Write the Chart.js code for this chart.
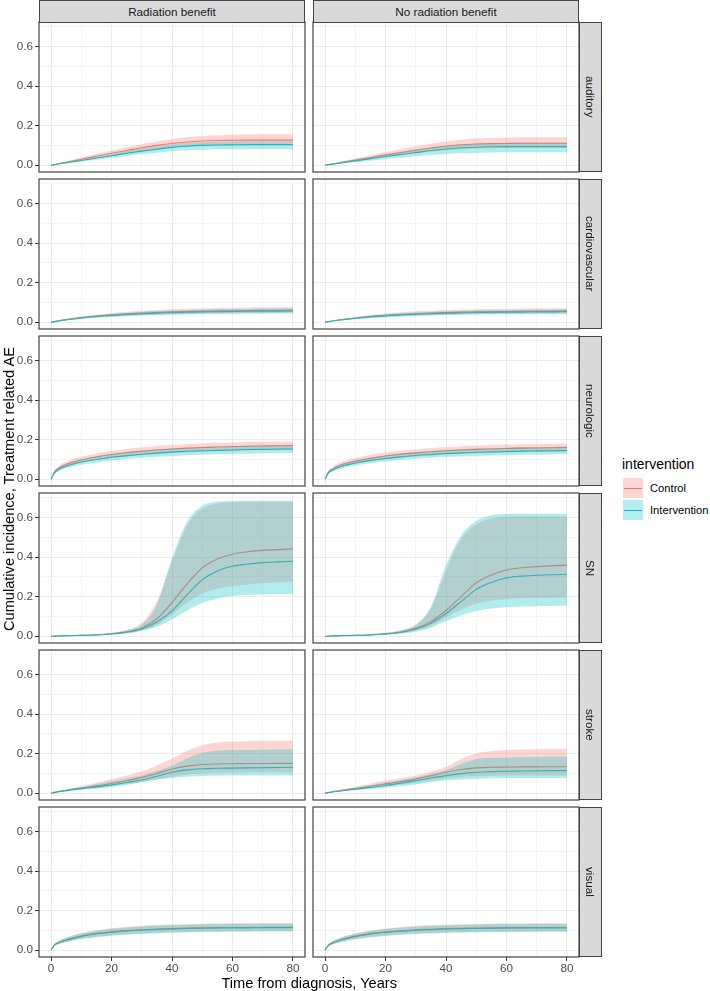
<!DOCTYPE html>
<html><head><meta charset="utf-8">
<script src="https://cdn.jsdelivr.net/npm/chart.js@4.4.1/dist/chart.umd.min.js"></script>
<style>
body{margin:0;background:#fff;}
#wrap{position:relative;width:710px;height:991px;overflow:hidden;font-family:"Liberation Sans",Arial,sans-serif;}
#wrap canvas{position:absolute;}
.strip{position:absolute;background:#D9D9D9;border:1px solid #444;box-sizing:border-box;color:#1A1A1A;font-size:11.7px;display:flex;align-items:center;justify-content:center;z-index:5;}
.strip.v span{writing-mode:vertical-rl;}
.title{position:absolute;color:#000;font-size:14.6px;white-space:nowrap;}
.ltitle{position:absolute;color:#000;font-size:14px;white-space:nowrap;}
.key{position:absolute;width:20px;height:20px;}
.key i{position:absolute;left:1px;right:1px;top:9.5px;height:1.2px;}
.lab{position:absolute;font-size:11.2px;color:#000;white-space:nowrap;}
</style></head>
<body><div id="wrap"></div>
<script>
// ---------- data ----------
const xs = [0,1,2,5,10,15,20,25,30,35,40,45,50,55,60,65,70,75,80];
const xMajor = [0,20,40,60,80];
const xMinor = [10,30,50,70];
const yMajor = [0,0.2,0.4,0.6];
const yMinor = [0.1,0.3,0.5,0.7];
const columns = ['Radiation benefit','No radiation benefit'];
const rowNames = ['auditory','cardiovascular','neurologic','SN','stroke','visual'];
const seriesNames = ['Control','Intervention'];
const legendTitle = 'intervention';
const xTitle = 'Time from diagnosis, Years';
const yTitle = 'Cumulative incidence, Treatment related AE';

// auditory
const audRadCtrl   = [0,0.003,0.006,0.015,0.030,0.045,0.060,0.074,0.088,0.100,0.110,0.117,0.122,0.125,0.126,0.127,0.127,0.127,0.127];
const audRadCtrlHi = [0,0.004,0.008,0.019,0.038,0.056,0.074,0.090,0.106,0.120,0.132,0.142,0.148,0.152,0.154,0.155,0.156,0.156,0.156];
const audRadCtrlLo = [0,0.003,0.005,0.012,0.024,0.036,0.048,0.060,0.071,0.081,0.089,0.095,0.099,0.101,0.102,0.103,0.103,0.103,0.103];
const audRadInt    = [0,0.002,0.005,0.012,0.024,0.036,0.048,0.060,0.071,0.081,0.090,0.096,0.100,0.102,0.103,0.104,0.104,0.104,0.104];
const audRadIntHi  = [0,0.003,0.006,0.015,0.029,0.043,0.057,0.071,0.084,0.095,0.105,0.112,0.116,0.119,0.120,0.121,0.121,0.121,0.121];
const audRadIntLo  = [0,0.002,0.004,0.009,0.019,0.028,0.038,0.047,0.056,0.063,0.070,0.075,0.078,0.080,0.081,0.081,0.081,0.081,0.081];
const audNoCtrl    = [0,0.003,0.005,0.013,0.026,0.039,0.052,0.064,0.076,0.087,0.096,0.103,0.107,0.109,0.110,0.111,0.111,0.111,0.111];
const audNoCtrlHi  = [0,0.004,0.007,0.017,0.034,0.050,0.066,0.081,0.096,0.109,0.120,0.129,0.135,0.138,0.140,0.141,0.141,0.141,0.141];
const audNoCtrlLo  = [0,0.002,0.004,0.010,0.020,0.030,0.041,0.050,0.060,0.068,0.075,0.080,0.084,0.086,0.087,0.088,0.088,0.088,0.088];
const audNoInt     = [0,0.002,0.004,0.011,0.022,0.033,0.044,0.054,0.064,0.074,0.082,0.088,0.091,0.093,0.094,0.094,0.094,0.094,0.094];
const audNoIntHi   = [0,0.003,0.005,0.014,0.027,0.040,0.053,0.066,0.078,0.089,0.098,0.105,0.109,0.111,0.112,0.113,0.113,0.113,0.113];
const audNoIntLo   = [0,0.002,0.003,0.008,0.015,0.023,0.030,0.038,0.045,0.051,0.056,0.060,0.062,0.064,0.065,0.065,0.065,0.065,0.065];

// cardiovascular
const cvRadCtrl    = [0,0.003,0.006,0.013,0.023,0.031,0.037,0.042,0.046,0.049,0.052,0.054,0.056,0.057,0.058,0.059,0.060,0.060,0.061];
const cvRadCtrlHi  = [0,0.004,0.008,0.017,0.029,0.039,0.047,0.053,0.058,0.062,0.066,0.068,0.070,0.072,0.073,0.074,0.075,0.075,0.076];
const cvRadCtrlLo  = [0,0.002,0.005,0.010,0.018,0.024,0.029,0.033,0.036,0.038,0.041,0.042,0.044,0.044,0.045,0.046,0.047,0.047,0.048];
const cvRadInt     = [0,0.003,0.005,0.012,0.021,0.029,0.034,0.039,0.043,0.046,0.048,0.050,0.052,0.053,0.054,0.055,0.056,0.056,0.057];
const cvRadIntHi   = [0,0.003,0.007,0.015,0.026,0.035,0.042,0.047,0.052,0.056,0.059,0.061,0.063,0.065,0.066,0.067,0.068,0.068,0.069];
const cvRadIntLo   = [0,0.002,0.004,0.009,0.016,0.022,0.026,0.030,0.033,0.035,0.037,0.039,0.040,0.041,0.042,0.043,0.043,0.044,0.044];
const cvNoCtrl     = [0,0.003,0.005,0.012,0.021,0.029,0.035,0.039,0.043,0.046,0.049,0.051,0.052,0.053,0.054,0.055,0.056,0.056,0.057];
const cvNoCtrlHi   = [0,0.004,0.007,0.016,0.027,0.037,0.044,0.050,0.055,0.058,0.062,0.064,0.066,0.067,0.068,0.069,0.070,0.071,0.071];
const cvNoCtrlLo   = [0,0.002,0.004,0.009,0.016,0.022,0.027,0.031,0.034,0.036,0.038,0.040,0.041,0.042,0.043,0.043,0.044,0.044,0.045];
const cvNoInt      = [0,0.003,0.005,0.011,0.020,0.027,0.032,0.037,0.040,0.043,0.045,0.047,0.049,0.050,0.051,0.051,0.052,0.052,0.053];
const cvNoIntHi    = [0,0.003,0.006,0.014,0.024,0.033,0.039,0.045,0.049,0.052,0.055,0.057,0.059,0.060,0.061,0.062,0.063,0.063,0.064];
const cvNoIntLo    = [0,0.002,0.004,0.008,0.015,0.020,0.024,0.028,0.031,0.033,0.035,0.037,0.038,0.039,0.040,0.040,0.041,0.041,0.042];

// neurologic
const neRadCtrl    = [0,0.035,0.050,0.075,0.098,0.113,0.125,0.134,0.142,0.148,0.153,0.157,0.160,0.163,0.165,0.167,0.168,0.169,0.170];
const neRadCtrlHi  = [0,0.042,0.060,0.088,0.113,0.130,0.143,0.153,0.161,0.168,0.173,0.178,0.181,0.184,0.186,0.188,0.189,0.190,0.191];
const neRadCtrlLo  = [0,0.028,0.041,0.063,0.083,0.097,0.107,0.115,0.122,0.128,0.132,0.136,0.139,0.141,0.143,0.145,0.146,0.147,0.148];
const neRadInt     = [0,0.030,0.044,0.066,0.087,0.100,0.111,0.119,0.126,0.132,0.137,0.141,0.144,0.146,0.148,0.150,0.151,0.152,0.153];
const neRadIntHi   = [0,0.036,0.052,0.077,0.100,0.115,0.127,0.136,0.144,0.150,0.155,0.159,0.162,0.165,0.167,0.169,0.170,0.171,0.172];
const neRadIntLo   = [0,0.024,0.036,0.055,0.073,0.085,0.095,0.102,0.108,0.113,0.117,0.121,0.124,0.126,0.128,0.129,0.130,0.131,0.132];
const neNoCtrl     = [0,0.033,0.047,0.071,0.092,0.106,0.117,0.126,0.133,0.139,0.144,0.148,0.151,0.153,0.155,0.157,0.158,0.159,0.160];
const neNoCtrlHi   = [0,0.040,0.057,0.084,0.107,0.123,0.135,0.144,0.152,0.158,0.163,0.167,0.171,0.173,0.175,0.177,0.178,0.179,0.180];
const neNoCtrlLo   = [0,0.027,0.038,0.059,0.078,0.091,0.101,0.109,0.115,0.120,0.125,0.128,0.131,0.133,0.135,0.136,0.137,0.138,0.139];
const neNoInt      = [0,0.029,0.042,0.063,0.082,0.095,0.105,0.113,0.120,0.125,0.130,0.133,0.136,0.138,0.140,0.142,0.143,0.144,0.145];
const neNoIntHi    = [0,0.035,0.050,0.074,0.095,0.110,0.121,0.130,0.137,0.143,0.148,0.152,0.155,0.157,0.159,0.161,0.162,0.163,0.164];
const neNoIntLo    = [0,0.023,0.034,0.052,0.069,0.081,0.090,0.097,0.103,0.108,0.112,0.115,0.118,0.120,0.121,0.123,0.124,0.125,0.126];

// SN
const snRadCtrl    = [0,0,0.001,0.002,0.004,0.007,0.012,0.022,0.042,0.088,0.170,0.265,0.345,0.390,0.415,0.427,0.434,0.438,0.442];
const snRadCtrlHi  = [0,0,0.001,0.003,0.006,0.010,0.017,0.032,0.068,0.175,0.375,0.560,0.645,0.672,0.678,0.680,0.680,0.680,0.680];
const snRadCtrlLo  = [0,0,0.001,0.002,0.003,0.005,0.009,0.016,0.030,0.058,0.110,0.170,0.215,0.240,0.253,0.262,0.268,0.272,0.275];
const snRadInt     = [0,0,0.001,0.002,0.004,0.006,0.011,0.020,0.037,0.072,0.128,0.210,0.285,0.330,0.354,0.365,0.372,0.376,0.379];
const snRadIntHi   = [0,0,0.001,0.003,0.005,0.009,0.016,0.030,0.058,0.160,0.395,0.580,0.660,0.680,0.684,0.685,0.685,0.685,0.685];
const snRadIntLo   = [0,0,0.001,0.001,0.003,0.005,0.008,0.014,0.026,0.048,0.085,0.130,0.168,0.190,0.203,0.208,0.211,0.213,0.215];
const snNoCtrl     = [0,0,0.001,0.002,0.004,0.007,0.012,0.021,0.040,0.075,0.130,0.200,0.270,0.310,0.335,0.346,0.352,0.356,0.359];
const snNoCtrlHi   = [0,0,0.001,0.003,0.006,0.010,0.017,0.030,0.060,0.140,0.330,0.490,0.565,0.595,0.603,0.605,0.606,0.606,0.606];
const snNoCtrlLo   = [0,0,0.001,0.001,0.003,0.005,0.008,0.015,0.028,0.052,0.095,0.135,0.165,0.180,0.188,0.192,0.194,0.195,0.196];
const snNoInt      = [0,0,0.001,0.002,0.004,0.006,0.011,0.019,0.036,0.066,0.115,0.175,0.237,0.272,0.295,0.304,0.308,0.311,0.313];
const snNoIntHi    = [0,0,0.001,0.003,0.005,0.009,0.016,0.029,0.055,0.150,0.360,0.510,0.583,0.612,0.618,0.620,0.620,0.620,0.620];
const snNoIntLo    = [0,0,0.001,0.001,0.003,0.004,0.007,0.013,0.023,0.043,0.075,0.105,0.128,0.140,0.146,0.150,0.152,0.153,0.154];

// stroke
const stRadCtrl    = [0,0.004,0.007,0.015,0.026,0.037,0.049,0.063,0.080,0.100,0.122,0.137,0.145,0.148,0.149,0.150,0.150,0.151,0.151];
const stRadCtrlHi  = [0,0.005,0.009,0.019,0.036,0.053,0.072,0.090,0.110,0.140,0.175,0.215,0.243,0.256,0.261,0.263,0.264,0.265,0.265];
const stRadCtrlLo  = [0,0.003,0.006,0.012,0.020,0.028,0.036,0.046,0.057,0.070,0.083,0.095,0.101,0.104,0.105,0.106,0.106,0.106,0.106];
const stRadInt     = [0,0.003,0.006,0.013,0.023,0.032,0.042,0.054,0.067,0.086,0.106,0.118,0.124,0.126,0.127,0.128,0.129,0.130,0.131];
const stRadIntHi   = [0,0.004,0.008,0.017,0.031,0.045,0.060,0.075,0.090,0.112,0.139,0.175,0.204,0.215,0.218,0.219,0.220,0.221,0.221];
const stRadIntLo   = [0,0.002,0.005,0.010,0.017,0.023,0.030,0.042,0.055,0.068,0.077,0.083,0.087,0.088,0.089,0.089,0.089,0.089,0.089];
const stNoCtrl     = [0,0.003,0.006,0.013,0.024,0.035,0.047,0.059,0.072,0.088,0.106,0.120,0.128,0.131,0.132,0.133,0.133,0.134,0.134];
const stNoCtrlHi   = [0,0.004,0.008,0.017,0.032,0.048,0.064,0.076,0.089,0.108,0.134,0.172,0.201,0.213,0.218,0.221,0.222,0.223,0.223];
const stNoCtrlLo   = [0,0.003,0.005,0.011,0.019,0.027,0.035,0.044,0.053,0.064,0.074,0.082,0.086,0.088,0.089,0.089,0.089,0.089,0.089];
const stNoInt      = [0,0.003,0.005,0.011,0.020,0.029,0.039,0.051,0.064,0.077,0.089,0.099,0.106,0.109,0.111,0.112,0.113,0.114,0.114];
const stNoIntHi    = [0,0.003,0.007,0.015,0.027,0.040,0.054,0.066,0.080,0.097,0.117,0.148,0.173,0.179,0.181,0.182,0.183,0.184,0.184];
const stNoIntLo    = [0,0.002,0.004,0.009,0.015,0.021,0.027,0.035,0.044,0.055,0.064,0.069,0.072,0.075,0.077,0.077,0.077,0.077,0.077];

// visual
const viRadCtrl    = [0,0.025,0.035,0.053,0.072,0.085,0.093,0.099,0.104,0.107,0.110,0.112,0.113,0.114,0.115,0.115,0.115,0.116,0.116];
const viRadCtrlHi  = [0,0.031,0.043,0.065,0.087,0.101,0.111,0.118,0.123,0.127,0.130,0.132,0.134,0.135,0.136,0.136,0.137,0.137,0.137];
const viRadCtrlLo  = [0,0.020,0.028,0.042,0.058,0.068,0.075,0.081,0.085,0.088,0.091,0.092,0.094,0.095,0.096,0.096,0.097,0.097,0.097];
const viRadInt     = [0,0.024,0.034,0.051,0.070,0.083,0.091,0.097,0.102,0.105,0.108,0.110,0.111,0.112,0.113,0.113,0.114,0.114,0.114];
const viRadIntHi   = [0,0.029,0.041,0.062,0.084,0.098,0.108,0.115,0.120,0.124,0.127,0.129,0.131,0.132,0.133,0.133,0.134,0.134,0.134];
const viRadIntLo   = [0,0.019,0.027,0.040,0.056,0.066,0.073,0.078,0.082,0.085,0.088,0.090,0.091,0.092,0.093,0.093,0.094,0.094,0.094];
const viNoCtrl     = [0,0.024,0.034,0.052,0.071,0.084,0.092,0.098,0.103,0.106,0.109,0.111,0.112,0.113,0.114,0.114,0.115,0.115,0.115];
const viNoCtrlHi   = [0,0.030,0.042,0.064,0.086,0.100,0.110,0.117,0.122,0.126,0.129,0.131,0.133,0.134,0.135,0.135,0.136,0.136,0.136];
const viNoCtrlLo   = [0,0.019,0.027,0.041,0.057,0.067,0.074,0.080,0.084,0.087,0.090,0.091,0.093,0.094,0.095,0.095,0.096,0.096,0.096];
const viNoInt      = [0,0.023,0.033,0.050,0.069,0.082,0.090,0.096,0.101,0.104,0.107,0.109,0.110,0.111,0.112,0.112,0.113,0.113,0.113];
const viNoIntHi    = [0,0.028,0.040,0.061,0.083,0.097,0.107,0.114,0.119,0.123,0.126,0.128,0.130,0.131,0.132,0.132,0.133,0.133,0.133];
const viNoIntLo    = [0,0.018,0.026,0.039,0.055,0.065,0.072,0.077,0.081,0.084,0.087,0.089,0.090,0.091,0.091,0.092,0.092,0.093,0.093];

// [row][col] = [ctrl, ctrlLo, ctrlHi, int, intLo, intHi]
const panelData = [
  [[audRadCtrl,audRadCtrlLo,audRadCtrlHi,audRadInt,audRadIntLo,audRadIntHi],[audNoCtrl,audNoCtrlLo,audNoCtrlHi,audNoInt,audNoIntLo,audNoIntHi]],
  [[cvRadCtrl,cvRadCtrlLo,cvRadCtrlHi,cvRadInt,cvRadIntLo,cvRadIntHi],[cvNoCtrl,cvNoCtrlLo,cvNoCtrlHi,cvNoInt,cvNoIntLo,cvNoIntHi]],
  [[neRadCtrl,neRadCtrlLo,neRadCtrlHi,neRadInt,neRadIntLo,neRadIntHi],[neNoCtrl,neNoCtrlLo,neNoCtrlHi,neNoInt,neNoIntLo,neNoIntHi]],
  [[snRadCtrl,snRadCtrlLo,snRadCtrlHi,snRadInt,snRadIntLo,snRadIntHi],[snNoCtrl,snNoCtrlLo,snNoCtrlHi,snNoInt,snNoIntLo,snNoIntHi]],
  [[stRadCtrl,stRadCtrlLo,stRadCtrlHi,stRadInt,stRadIntLo,stRadIntHi],[stNoCtrl,stNoCtrlLo,stNoCtrlHi,stNoInt,stNoIntLo,stNoIntHi]],
  [[viRadCtrl,viRadCtrlLo,viRadCtrlHi,viRadInt,viRadIntLo,viRadIntHi],[viNoCtrl,viNoCtrlLo,viNoCtrlHi,viNoInt,viNoIntLo,viNoIntHi]]
];

// ---------- style / layout ----------
const FONT = '"Liberation Sans", Arial, sans-serif';
const RED = '#F8766D', TEAL = '#00BFC4';
const PINK = 'rgba(248,118,109,0.3)', CYAN = 'rgba(0,191,196,0.3)';
const PANEL_L = [39, 313], PANEL_W = 266, PANEL_T0 = 22, ROW_STEP = 157, PANEL_H = 150;
const YW = 39, XH = 22, PAD = 2;
const wrap = document.getElementById('wrap');

function buildTicks(maj, min) {
  return maj.map(v => ({value: v, isMajor: true}))
    .concat(min.map(v => ({value: v, isMajor: false})))
    .sort((a, b) => a.value - b.value);
}
const gridColor = c => (c.tick && c.tick.isMajor) ? '#EBEBEB' : '#F4F4F4';
const tickColor = c => (c.tick && c.tick.isMajor) ? '#333333' : 'rgba(0,0,0,0)';

const borderPlugin = {
  id: 'panelBorder',
  afterDraw(chart) {
    const {ctx, chartArea: a} = chart;
    ctx.save();
    ctx.strokeStyle = '#444';
    ctx.lineWidth = 1.2;
    ctx.strokeRect(a.left, a.top, a.right - a.left, a.bottom - a.top);
    ctx.restore();
  }
};

function makeChart(r, c) {
  const [cm, clo, chi, im, ilo, ihi] = panelData[r][c];
  const left = c === 0, bottom = r === rowNames.length - 1;
  const yw = left ? YW : 0, xh = bottom ? XH : 0;
  const cv = document.createElement('canvas');
  cv.width = PAD + yw + PANEL_W + PAD;
  cv.height = PAD + PANEL_H + xh + PAD;
  cv.style.left = (PANEL_L[c] - yw - PAD) + 'px';
  cv.style.top = (PANEL_T0 + r * ROW_STEP - PAD) + 'px';
  wrap.appendChild(cv);
  const pts = arr => xs.map((x, i) => ({x: x, y: arr[i]}));
  const none = 'rgba(0,0,0,0)';
  new Chart(cv, {
    type: 'line',
    data: {datasets: [
      {label: seriesNames[0], data: pts(cm), borderColor: RED, borderWidth: 1.1, fill: false, order: 10},
      {label: seriesNames[1], data: pts(im), borderColor: TEAL, borderWidth: 1.1, fill: false, order: 9},
      {label: seriesNames[0] + ' upper', data: pts(chi), borderColor: none, borderWidth: 0, backgroundColor: PINK, fill: 3, order: 5},
      {label: seriesNames[0] + ' lower', data: pts(clo), borderColor: none, borderWidth: 0, fill: false, order: 6},
      {label: seriesNames[1] + ' upper', data: pts(ihi), borderColor: none, borderWidth: 0, backgroundColor: CYAN, fill: 5, order: 4},
      {label: seriesNames[1] + ' lower', data: pts(ilo), borderColor: none, borderWidth: 0, fill: false, order: 7}
    ]},
    options: {
      responsive: false, animation: false, devicePixelRatio: 1,
      layout: {padding: PAD},
      elements: {point: {radius: 0, hoverRadius: 0}, line: {cubicInterpolationMode: 'monotone'}},
      plugins: {legend: {display: false}, tooltip: {enabled: false}},
      events: [],
      scales: {
        x: {
          type: 'linear', min: -4, max: 84,
          afterBuildTicks: s => { s.ticks = buildTicks(xMajor, xMinor); },
          afterFit: s => { s.height = xh; s.paddingLeft = 0; s.paddingRight = 0; s.paddingTop = 0; s.paddingBottom = 0; },
          grid: {color: gridColor, lineWidth: 1, drawTicks: bottom, tickLength: 4, tickColor: tickColor, tickWidth: 1},
          border: {display: false},
          ticks: {display: bottom, autoSkip: false, maxRotation: 0, padding: 1, color: '#4D4D4D',
                  font: {family: FONT, size: 11.7},
                  callback: (v, i, t) => t[i].isMajor ? String(v) : ''}
        },
        y: {
          type: 'linear', min: -0.0345, max: 0.7245,
          afterBuildTicks: s => { s.ticks = buildTicks(yMajor, yMinor); },
          afterFit: s => { s.width = yw; s.paddingTop = 0; s.paddingBottom = 0; s.paddingLeft = 0; s.paddingRight = 0; },
          grid: {color: gridColor, lineWidth: 1, drawTicks: left, tickLength: 4, tickColor: tickColor, tickWidth: 1},
          border: {display: false},
          ticks: {display: left, autoSkip: false, padding: 2, color: '#4D4D4D',
                  font: {family: FONT, size: 11.7},
                  callback: (v, i, t) => t[i].isMajor ? v.toFixed(1) : ''}
        }
      }
    },
    plugins: [borderPlugin]
  });
}

for (let r = 0; r < rowNames.length; r++) for (let c = 0; c < columns.length; c++) makeChart(r, c);

// strips
columns.forEach((name, c) => {
  const d = document.createElement('div');
  d.className = 'strip';
  Object.assign(d.style, {left: PANEL_L[c] + 'px', top: '0px', width: PANEL_W + 'px', height: (PANEL_T0 + 1) + 'px'});
  d.textContent = name;
  wrap.appendChild(d);
});
rowNames.forEach((name, r) => {
  const d = document.createElement('div');
  d.className = 'strip v';
  Object.assign(d.style, {left: (PANEL_L[1] + PANEL_W) + 'px', top: (PANEL_T0 + r * ROW_STEP) + 'px', width: '23px', height: PANEL_H + 'px'});
  const s = document.createElement('span');
  s.textContent = name;
  d.appendChild(s);
  wrap.appendChild(d);
});

// axis titles
const xt = document.createElement('div');
xt.className = 'title'; xt.textContent = xTitle;
wrap.appendChild(xt);
xt.style.left = (309 - xt.offsetWidth / 2) + 'px';
xt.style.top = (983 - xt.offsetHeight / 2) + 'px';
const yt = document.createElement('div');
yt.className = 'title'; yt.textContent = yTitle;
wrap.appendChild(yt);
yt.style.left = (9 - yt.offsetWidth / 2) + 'px';
yt.style.top = (489 - yt.offsetHeight / 2) + 'px';
yt.style.transform = 'rotate(-90deg)';

// legend
const lt = document.createElement('div');
lt.className = 'ltitle'; lt.textContent = legendTitle;
wrap.appendChild(lt);
lt.style.left = '622px';
lt.style.top = (464 - lt.offsetHeight / 2) + 'px';
[[PINK, RED], [CYAN, TEAL]].forEach(([fill, line], i) => {
  const k = document.createElement('div');
  k.className = 'key';
  Object.assign(k.style, {left: '623px', top: (478 + i * 22) + 'px', background: fill});
  const l = document.createElement('i');
  l.style.background = line;
  k.appendChild(l);
  wrap.appendChild(k);
  const t = document.createElement('div');
  t.className = 'lab'; t.textContent = seriesNames[i];
  wrap.appendChild(t);
  t.style.left = '650px';
  t.style.top = (488 + i * 22 - t.offsetHeight / 2) + 'px';
});
</script>
</body></html>
